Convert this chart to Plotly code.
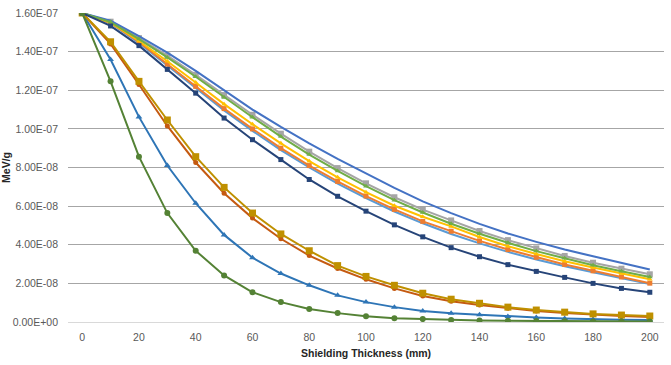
import plotly.graph_objects as go

# Shielding thickness (mm)
thickness = [0, 10, 20, 30, 40, 50, 60, 70, 80, 90, 100, 110, 120, 130, 140, 150, 160, 170, 180, 190, 200]

# Dose values in units of 1e-8 MeV/g
s_lightblue = [16.0, 15.47, 14.45, 13.28, 12.10, 10.95, 9.90, 8.90, 8.00, 7.17, 6.41, 5.72, 5.11, 4.56, 4.07, 3.63, 3.24, 2.89, 2.58, 2.29, 1.97]
s_orange = [16.0, 15.48, 14.50, 13.35, 12.20, 11.05, 10.00, 9.00, 8.10, 7.28, 6.52, 5.83, 5.21, 4.70, 4.20, 3.75, 3.35, 2.98, 2.65, 2.33, 2.01]
s_gray = [16.0, 15.55, 14.70, 13.80, 12.80, 11.75, 10.73, 9.75, 8.82, 7.97, 7.18, 6.46, 5.82, 5.26, 4.71, 4.24, 3.81, 3.42, 3.07, 2.76, 2.47]
s_yellow = [16.0, 15.50, 14.55, 13.50, 12.40, 11.28, 10.24, 9.25, 8.33, 7.49, 6.72, 6.02, 5.45, 4.95, 4.40, 3.92, 3.52, 3.15, 2.82, 2.51, 2.21]
s_blue = [16.0, 15.60, 14.80, 13.95, 13.00, 12.00, 11.00, 10.10, 9.25, 8.45, 7.70, 6.95, 6.25, 5.64, 5.08, 4.58, 4.15, 3.75, 3.40, 3.05, 2.72]
s_green = [16.0, 15.53, 14.65, 13.70, 12.70, 11.63, 10.60, 9.60, 8.67, 7.82, 7.03, 6.31, 5.67, 5.09, 4.57, 4.10, 3.67, 3.30, 2.94, 2.63, 2.33]
s_tri_blue = [16.0, 13.59, 10.62, 8.10, 6.15, 4.51, 3.33, 2.51, 1.90, 1.38, 1.03, 0.77, 0.57, 0.45, 0.38, 0.29, 0.23, 0.18, 0.14, 0.12, 0.10]
s_dark_orange = [16.0, 14.40, 12.30, 10.15, 8.26, 6.67, 5.38, 4.31, 3.44, 2.77, 2.21, 1.74, 1.35, 1.08, 0.88, 0.71, 0.57, 0.46, 0.37, 0.31, 0.26]
s_dark_gold = [16.0, 14.51, 12.46, 10.46, 8.56, 6.97, 5.64, 4.56, 3.69, 2.92, 2.36, 1.90, 1.49, 1.18, 0.97, 0.77, 0.62, 0.51, 0.42, 0.36, 0.31]
s_navy = [16.0, 15.33, 14.31, 13.08, 11.85, 10.56, 9.44, 8.41, 7.38, 6.51, 5.74, 5.03, 4.41, 3.85, 3.38, 2.97, 2.62, 2.31, 2.00, 1.74, 1.54]
s_dark_green = [16.0, 12.46, 8.56, 5.64, 3.69, 2.41, 1.54, 1.03, 0.67, 0.46, 0.30, 0.20, 0.15, 0.10, 0.08, 0.06, 0.05, 0.04, 0.03, 0.03, 0.02]

y_ticks = [0, 2, 4, 6, 8, 10, 12, 14, 16]
x_ticks = [0, 20, 40, 60, 80, 100, 120, 140, 160, 180, 200]

series = [
    (s_lightblue, "#5B9BD5", None, 0),
    (s_orange, "#ED7D31", "square", 5),
    (s_gray, "#A5A5A5", "square", 6),
    (s_yellow, "#FFC000", "triangle-up", 5),
    (s_blue, "#4472C4", None, 0),
    (s_green, "#70AD47", "triangle-up", 5),
    (s_tri_blue, "#2E75B6", "triangle-up", 6),
    (s_dark_orange, "#C55A11", "circle", 5),
    (s_dark_gold, "#BF9000", "square", 7),
    (s_navy, "#264478", "square", 5),
    (s_dark_green, "#548235", "circle", 6),
]

fig = go.Figure()
for vals, color, sym, size in series:
    if sym is None:
        fig.add_trace(go.Scatter(x=thickness, y=vals, mode="lines",
                                 line=dict(color=color, width=2), showlegend=False))
    else:
        fig.add_trace(go.Scatter(x=thickness, y=vals, mode="lines+markers",
                                 line=dict(color=color, width=2),
                                 marker=dict(symbol=sym, size=size, color=color),
                                 showlegend=False))

tick_font = dict(family="Liberation Sans, Arial, sans-serif", size=10.5, color="#595959")

fig.update_layout(
    width=671, height=365,
    margin=dict(l=68, r=7, t=10, b=43),
    paper_bgcolor="white", plot_bgcolor="white",
    xaxis=dict(range=[-5, 205], tickmode="array", tickvals=x_ticks,
               ticktext=[str(v) for v in x_ticks], showgrid=False, zeroline=False,
               showline=True, linecolor="#d9d9d9", linewidth=1, ticks="",
               ticklabelstandoff=5, tickfont=tick_font),
    yaxis=dict(range=[0, 16], tickmode="array", tickvals=y_ticks,
               ticktext=[f"{v * 1e-8:.2E}" for v in y_ticks],
               showgrid=True, gridcolor="#a6a6a6", gridwidth=1, zeroline=False,
               showline=False, ticks="", ticklen=0, ticklabelstandoff=9,
               tickfont=tick_font),
    annotations=[
        dict(text="<b>Shielding Thickness (mm)</b>", xref="paper", yref="paper",
             x=0.5, y=-0.075, xanchor="center", yanchor="top", showarrow=False,
             font=dict(family="Liberation Sans, Arial, sans-serif", size=10.5, color="#262626")),
        dict(text="<b>MeV/g</b>", xref="paper", yref="paper", x=-0.105, y=0.5,
             xanchor="center", yanchor="middle", textangle=-90, showarrow=False,
             font=dict(family="Liberation Sans, Arial, sans-serif", size=10.5, color="#262626")),
    ],
)

fig.write_html("out.html")
